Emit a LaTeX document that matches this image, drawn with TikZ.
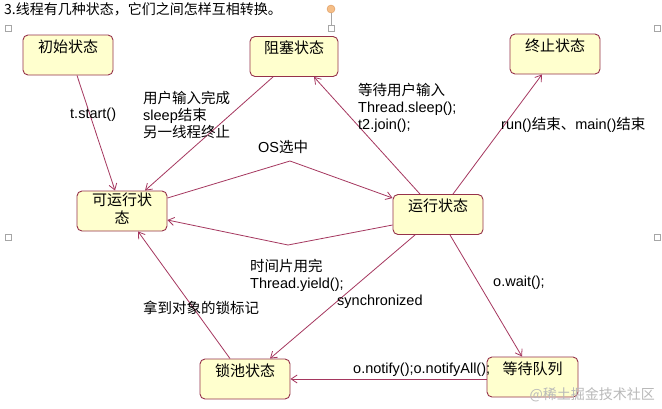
\documentclass[tikz,border=0pt]{standalone}
\usepackage{fontspec}
\setmainfont{Liberation Sans}
\newfontfamily\cjk{Noto Sans CJK SC}
\usetikzlibrary{arrows.meta,calc}
\definecolor{edgec}{RGB}{165,55,95}
\definecolor{sborder}{RGB}{150,50,75}
\definecolor{sfill}{RGB}{255,255,206}
\newcommand\zh[1]{{\cjk #1}}
\begin{document}
\begin{tikzpicture}[x=1pt,y=-1pt, font=\fontsize{14.5}{17}\selectfont,
 state/.style={draw=sborder, fill=sfill, rounded corners=5pt, line width=0.9pt, minimum width=90pt, minimum height=40pt, inner sep=0pt},
 stxt/.style={anchor=north, align=center, inner sep=0pt, font=\cjk\fontsize{15}{18}\selectfont},
 lbl/.style={anchor=west, align=left, inner sep=0pt},
 tr/.style={draw=edgec, line width=0.8pt, -{Straight Barb[length=6pt,width=8pt]}},
 handle/.style={draw=gray!70, fill=white, minimum size=6pt, inner sep=0pt, line width=0.5pt}]
\fill[white] (0,0) rectangle (662,408);
\useasboundingbox (0,0) rectangle (662,408);

% title
\node[anchor=west, inner sep=0pt, font=\cjk\fontsize{14}{16}\selectfont] (title) at (4,9) {3.线程有几种状态，它们之间怎样互相转换。};

% selection handles and rotation knob
\node[handle] (h1) at (8,28) {};
\node[handle] (h2) at (331,28) {};
\node[handle] (h3) at (657,28) {};
\node[handle] (h4) at (8,237) {};
\node[handle] (h5) at (657,237) {};
\node[circle, draw={rgb,255:red,220;green,150;blue,90}, fill={rgb,255:red,245;green,190;blue,135}, minimum size=8pt, inner sep=0pt] (knob) at (331,9) {};
\draw[gray!70, line width=0.5pt] (knob) -- (h2);

% states
\node[state] (init) at (68,55) {};
\node[stxt] (init-t) at ([yshift=-5pt]init.north) {初始状态};
\node[state, minimum width=88pt] (blocked) at (294,56.5) {};
\node[stxt] (blocked-t) at ([yshift=-5pt]blocked.north) {阻塞状态};
\node[state] (term) at (555,54) {};
\node[stxt] (term-t) at ([yshift=-5pt]term.north) {终止状态};
\node[state] (runnable) at (122,211) {};
\node[stxt] (runnable-t) at ([yshift=-2pt]runnable.north) {可运行状\\态};
\node[state] (running) at (438,214.5) {};
\node[stxt] (running-t) at ([yshift=-5pt]running.north) {运行状态};
\node[state] (lockpool) at (245,379) {};
\node[stxt] (lockpool-t) at ([yshift=-5pt]lockpool.north) {锁池状态};
\node[state, minimum width=91pt] (waitq) at (532.5,377) {};
\node[stxt] (waitq-t) at ([yshift=-5pt]waitq.north) {等待队列};

% transitions
\draw[tr] ([xshift=9pt]init.south) -- ([xshift=-7pt]runnable.north);
\draw[tr] ([xshift=-21pt]blocked.south) -- ([xshift=23pt]runnable.north);
\draw[tr] ([xshift=-18pt]running.north) -- ([xshift=20pt]blocked.south);
\draw[tr] ([xshift=15pt]running.north) -- ([xshift=-13pt]term.south);
\coordinate (osbend) at (290,161);
\draw[tr] ([yshift=13pt]runnable.east) -- (osbend) -- ([yshift=16.5pt]running.west);
\coordinate (ybend) at (288,245);
\draw[tr] ([yshift=-10.5pt]running.west) -- (ybend) -- ([yshift=-9pt]runnable.east);
\draw[tr] ([xshift=-23pt]running.south) -- ([xshift=25pt]lockpool.north);
\draw[tr] ([xshift=-15pt]lockpool.north) -- ([xshift=16pt]runnable.south);
\draw[tr] ([xshift=12pt]running.south) -- ([xshift=-10.5pt]waitq.north);
\draw[tr] ([yshift=-2pt]waitq.west) -- (lockpool.east);

% labels
\node[lbl] (l1) at (70,115) {t.start()};
\node[lbl] (l2) at (143,115) {\zh{用户输入完成}\\sleep\zh{结束}\\\zh{另一线程终止}};
\node[lbl] (l3) at (258,147) {OS\zh{选中}};
\node[lbl] (l4) at (358,108) {\zh{等待用户输入}\\Thread.sleep();\\t2.join();};
\node[lbl] (l5) at (501,125) {run()\zh{结束、}main()\zh{结束}};
\node[lbl] (l6) at (250,275) {\zh{时间片用完}\\Thread.yield();};
\node[lbl] (l7) at (337,302) {synchronized};
\node[lbl] (l8) at (143,308) {\zh{拿到对象的锁标记}};
\node[lbl] (l9) at (493,283) {o.wait();};
\node[lbl] (l10) at (353,370) {o.notify();o.notifyAll();};

% watermark
\node[anchor=east, inner sep=0pt, text=gray!55, font=\cjk\fontsize{14}{16}\selectfont] (wm) at (655,395) {@稀土掘金技术社区};
\end{tikzpicture}
\end{document}
